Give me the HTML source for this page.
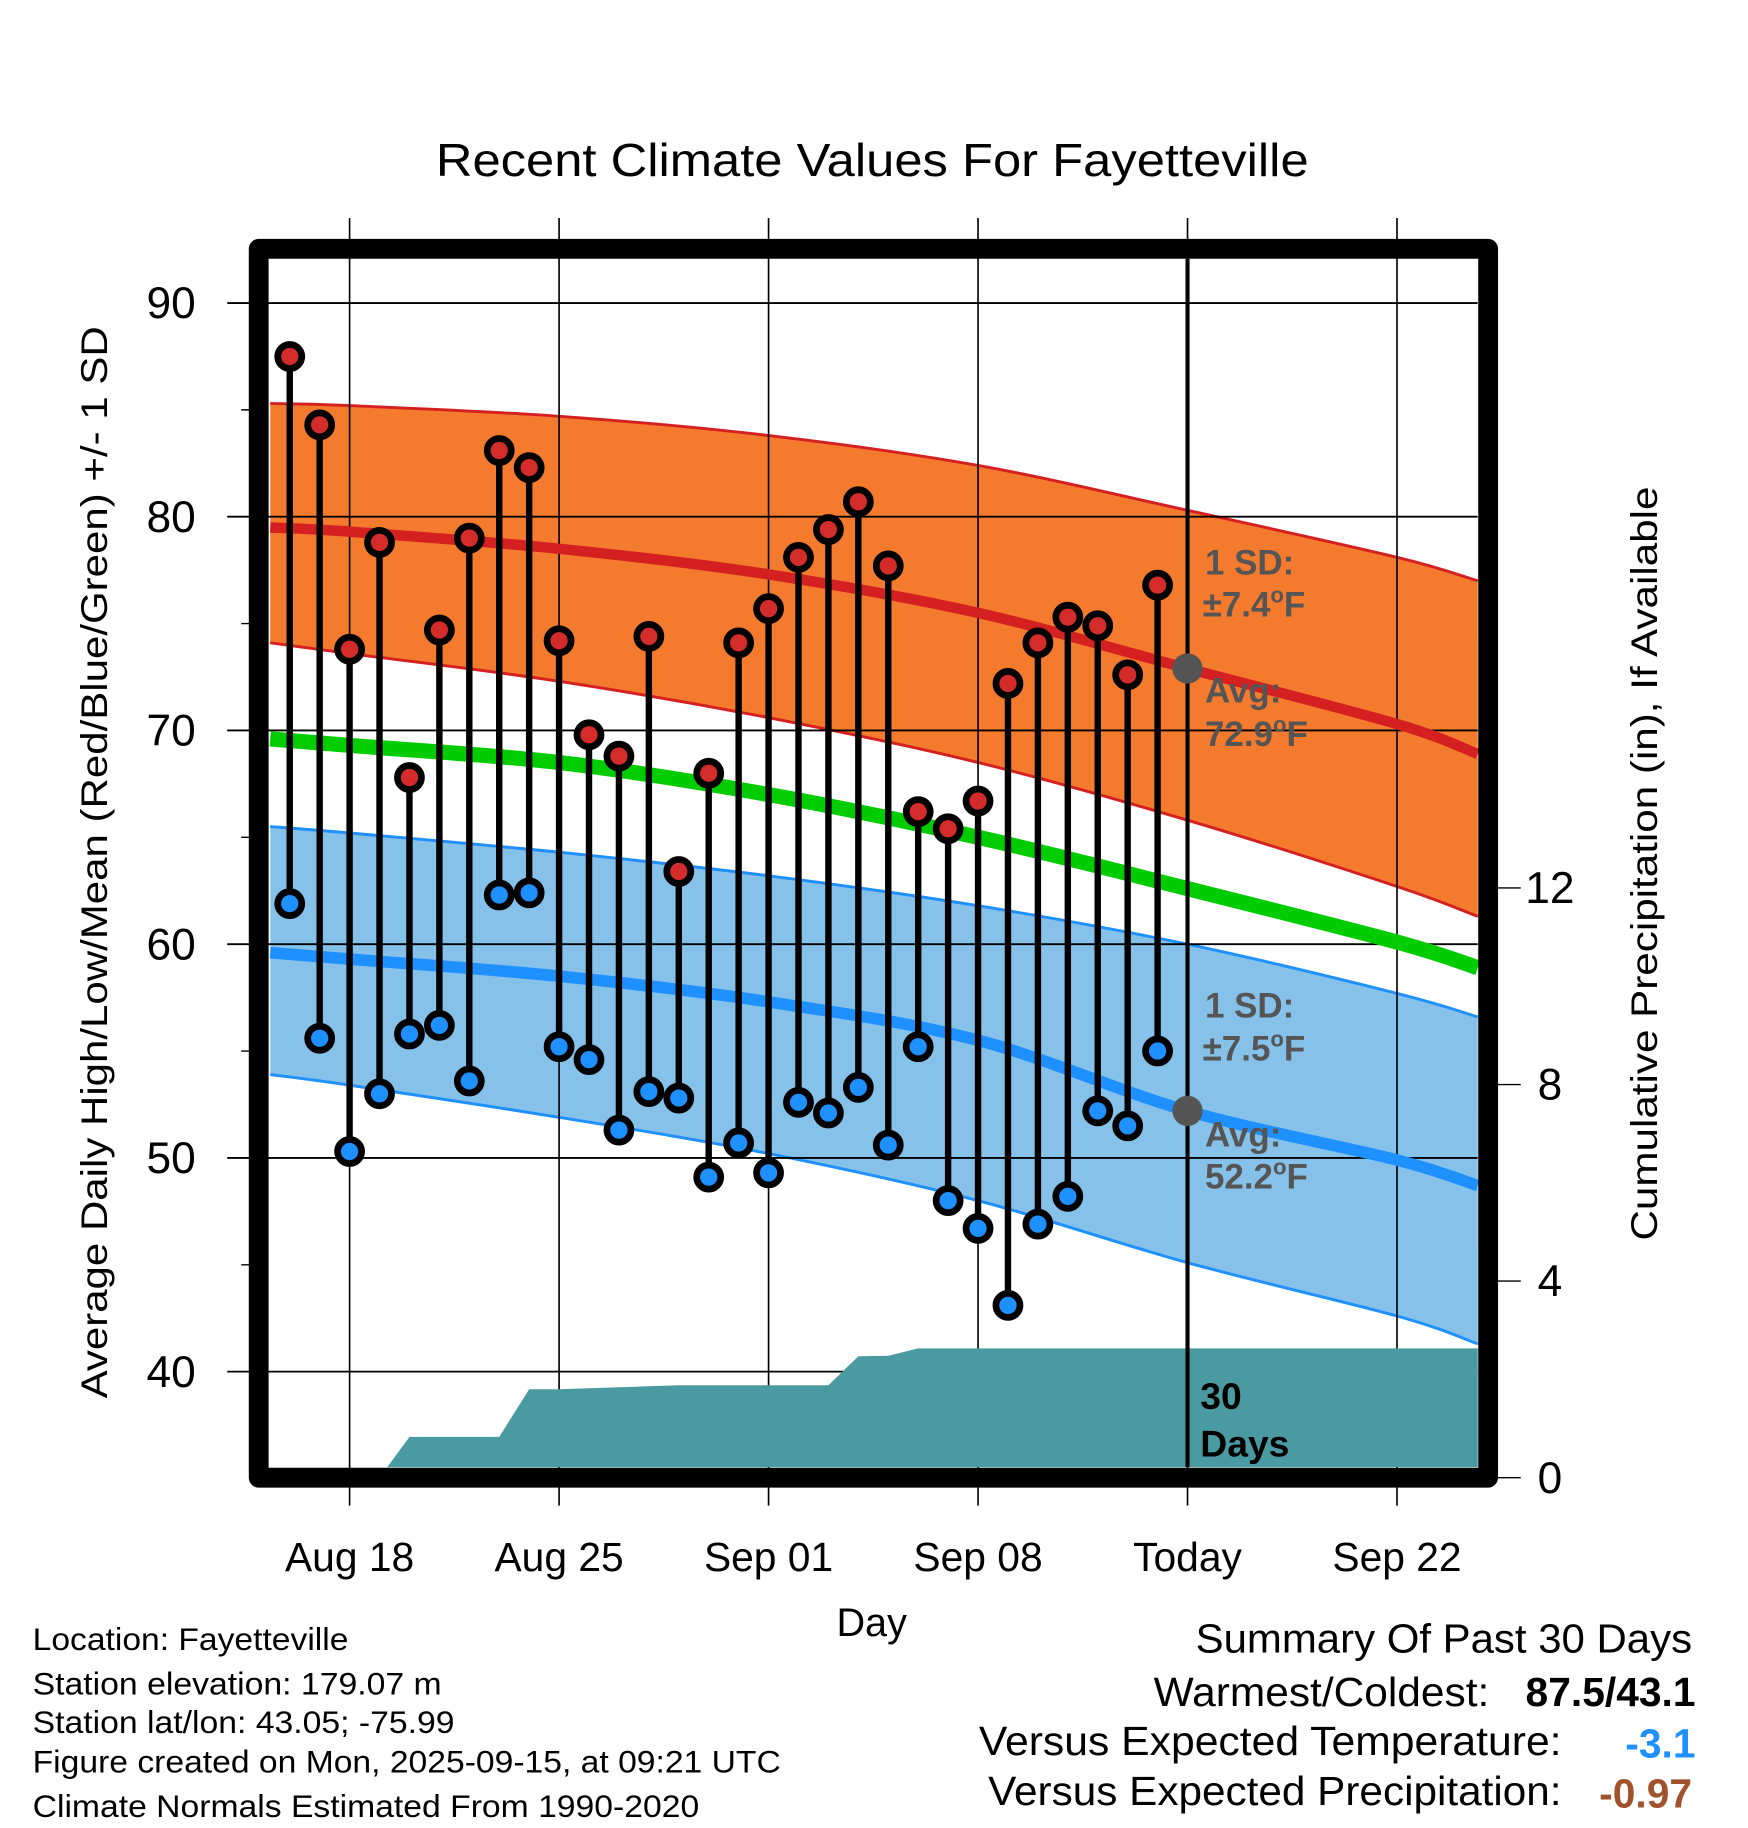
<!DOCTYPE html>
<html><head><meta charset="utf-8"><style>html,body{margin:0;padding:0;background:#fff}svg{display:block}text{font-family:"Liberation Sans",Arial,sans-serif}</style></head>
<body>
<svg id="chart" width="1748" height="1828" viewBox="0 0 1500 1568.6" xmlns="http://www.w3.org/2000/svg">
<defs><clipPath id="plotclip"><rect x="231" y="222" width="1038" height="1037"/></clipPath></defs>
<g id="bands" clip-path="url(#plotclip)"></g>
<g id="grid"></g>
<g id="precip" clip-path="url(#plotclip)"></g>
<g id="lines" clip-path="url(#plotclip)"></g>
<g id="stems"></g>
<g id="annot"></g>
<rect x="222" y="213.5" width="1055" height="1054.5" fill="none" stroke="#000" stroke-width="17" stroke-linejoin="round"/>
<g id="axes"></g>
<text x="374" y="151" font-size="40" textLength="749" lengthAdjust="spacingAndGlyphs">Recent Climate Values For Fayetteville</text>
<text transform="translate(92,740) rotate(-90)" font-size="32" text-anchor="middle" textLength="920" lengthAdjust="spacingAndGlyphs">Average Daily High/Low/Mean (Red/Blue/Green) +/- 1 SD</text>
<text transform="translate(1422,741) rotate(-90)" font-size="32" text-anchor="middle" textLength="647" lengthAdjust="spacingAndGlyphs">Cumulative Precipitation (in), If Available</text>
<text x="748" y="1404" font-size="34" text-anchor="middle">Day</text>
<g font-size="27">
<text x="28" y="1416" textLength="271" lengthAdjust="spacingAndGlyphs">Location: Fayetteville</text>
<text x="28" y="1454" textLength="351" lengthAdjust="spacingAndGlyphs">Station elevation: 179.07 m</text>
<text x="28" y="1487" textLength="362" lengthAdjust="spacingAndGlyphs">Station lat/lon: 43.05; -75.99</text>
<text x="28" y="1521" textLength="642" lengthAdjust="spacingAndGlyphs">Figure created on Mon, 2025-09-15, at 09:21 UTC</text>
<text x="28" y="1559" textLength="572" lengthAdjust="spacingAndGlyphs">Climate Normals Estimated From 1990-2020</text>
</g>
<g font-size="35">
<text x="1026" y="1418" textLength="426" lengthAdjust="spacingAndGlyphs">Summary Of Past 30 Days</text>
<text x="990" y="1464" textLength="288" lengthAdjust="spacingAndGlyphs">Warmest/Coldest:</text>
<text x="1455" y="1464" text-anchor="end" font-weight="bold">87.5/43.1</text>
<text x="840" y="1506" textLength="500" lengthAdjust="spacingAndGlyphs">Versus Expected Temperature:</text>
<text x="1455" y="1508" text-anchor="end" font-weight="bold" fill="#1e90ff">-3.1</text>
<text x="848" y="1549" textLength="492" lengthAdjust="spacingAndGlyphs">Versus Expected Precipitation:</text>
<text x="1452" y="1551" text-anchor="end" font-weight="bold" fill="#a0522d">-0.97</text>
</g>
</svg>
<script>
// day index: Aug18 = 0
const obsDays = [-2,-1,0,1,2,3,4,5,6,7,8,9,10,11,12,13,14,15,16,17,18,19,20,21,22,23,24,25,26,27];
const highs = [87.5,84.3,73.8,78.8,67.8,74.7,79.0,83.1,82.3,74.2,69.8,68.8,74.4,63.4,68.0,74.1,75.7,78.1,79.4,80.7,77.7,66.2,65.4,66.7,72.2,74.1,75.3,74.9,72.6,76.8];
const lows = [61.9,55.6,50.3,53.0,55.8,56.2,53.6,62.3,62.4,55.2,54.6,51.3,53.1,52.8,49.1,50.7,49.3,52.6,52.1,53.3,50.6,55.2,48.0,46.7,43.1,46.9,48.2,52.2,51.5,55.0];
const normDays = [-2.65,0,7,14,21,28,35,37.7];
const highAvg = [79.5,79.3,78.5,77.3,75.5,72.9,70.3,68.9];
const highUp = [85.3,85.2,84.7,83.8,82.4,80.3,78.1,77.0];
const highLo = [74.1,73.6,72.3,70.6,68.5,65.8,62.7,61.3];
const meanAvg = [69.6,69.3,68.5,67.0,65.0,62.6,60.1,58.9];
const lowUp = [65.5,65.2,64.3,63.2,61.8,60.0,57.7,56.6];
const lowAvg = [59.6,59.3,58.5,57.3,55.5,52.2,49.9,48.7];
const lowLo = [53.9,53.4,51.9,50.2,48.0,45.1,42.6,41.3];
const precipDays = [-2.65,-2,-1,0,1,2,3,4,5,6,7,8,9,10,11,12,13,14,15,16,17,18,19,20,21,22,23,24,25,26,27,28,35,37.7];
const precipVals = [0,0,0,0,0,0.83,0.83,0.83,0.83,1.80,1.80,1.82,1.84,1.86,1.88,1.88,1.88,1.88,1.88,1.88,2.47,2.48,2.63,2.63,2.63,2.63,2.63,2.63,2.63,2.63,2.63,2.63,2.63,2.63];
const tempTicks = [40,50,60,70,80,90];
const precipTicks = [0,4,8,12];
const xTickDays = [0,7,14,21,28,35];
const xTickLabels = ["Aug 18","Aug 25","Sep 01","Sep 08","Today","Sep 22"];
const todayDay = 28;

const NS="http://www.w3.org/2000/svg";
const xS = d => 300 + d*25.68;
const yS = t => 1177 - (t-40)*18.34;
const pS = p => 1268 - p*42.17;
function mk(tag, attrs, parent){const e=document.createElementNS(NS,tag);for(const k in attrs)e.setAttribute(k,attrs[k]);parent.appendChild(e);return e;}
const g = id => document.getElementById(id);
function xy(ds, vs){return ds.map((d,i)=>[xS(d), yS(vs[i])]);}
// Catmull-Rom smooth path segments (no leading M)
function smooth(P){
  let s='';
  for(let i=0;i<P.length-1;i++){
    const p0=P[Math.max(0,i-1)],p1=P[i],p2=P[i+1],p3=P[Math.min(P.length-1,i+2)];
    const c1=[p1[0]+(p2[0]-p0[0])/6,p1[1]+(p2[1]-p0[1])/6];
    const c2=[p2[0]-(p3[0]-p1[0])/6,p2[1]-(p3[1]-p1[1])/6];
    s+=' C'+c1.map(v=>v.toFixed(1)).join(',')+' '+c2.map(v=>v.toFixed(1)).join(',')+' '+p2.map(v=>v.toFixed(1)).join(',');
  }
  return s;
}
function curvePath(ds, vs){const P=xy(ds,vs);return 'M'+P[0][0].toFixed(1)+','+P[0][1].toFixed(1)+smooth(P);}
function band(up, lo, fill, stroke, name){
  const U=xy(normDays, up), L=xy(normDays, lo).reverse();
  const d='M'+U[0][0]+','+U[0][1]+smooth(U)+' L'+L[0][0]+','+L[0][1]+smooth(L)+' Z';
  const b = mk('path',{d:d,fill:fill},g('bands'));
  
  
  [up,lo].forEach(a=>{const l=mk('path',{d:curvePath(normDays,a),fill:'none',stroke:stroke,'stroke-width':2.5},g('bands'));
  
  });
}
band(highUp, highLo, '#f47a2e', '#d42020', 'high-sd-band');
band(lowUp, lowLo, '#85c1e9', '#1e90ff', 'low-sd-band');

// grid
tempTicks.forEach(t=>{const l=mk('line',{x1:195,x2:1268,y1:yS(t),y2:yS(t),stroke:'#000','stroke-width':1.6},g('grid'));


const tx=mk('text',{x:168,y:yS(t)+13,'font-size':38,'text-anchor':'end'},g('axes'));tx.textContent=t;

});
[45,55,65,75,85].forEach(t=>{const l=mk('line',{x1:207,x2:222,y1:yS(t),y2:yS(t),stroke:'#000','stroke-width':1.2},g('grid'));

});
xTickDays.forEach((d,i)=>{const l=mk('line',{x1:xS(d),x2:xS(d),y1:187,y2:1292,stroke:'#000','stroke-width':1.4},g('grid'));


const tx=mk('text',{x:xS(d),y:1348,'font-size':35,'text-anchor':'middle'},g('axes'));tx.textContent=xTickLabels[i];

});
precipTicks.forEach(p=>{const l=mk('line',{x1:1277,x2:1305,y1:pS(p),y2:pS(p),stroke:'#000','stroke-width':1.2},g('axes'));


const tx=mk('text',{x:1330,y:pS(p)+13,'font-size':38,'text-anchor':'middle'},g('axes'));tx.textContent=p;

});

// precip area
const pp = precipDays.map((d,i)=>xS(d).toFixed(1)+","+pS(precipVals[i]).toFixed(1));
pp.push(xS(precipDays[precipDays.length-1]).toFixed(1)+","+pS(0)); pp.push(xS(precipDays[0]).toFixed(1)+","+pS(0));
const pa=mk('polygon',{points:pp.join(' '),fill:'#4a9aa2'},g('precip'));



// avg lines
[[highAvg,'#d42020',9,'high-avg-line'],[meanAvg,'#00cc00',13,'mean-avg-line'],[lowAvg,'#1e90ff',10,'low-avg-line']].forEach(a=>{
 const l=mk('path',{d:curvePath(normDays,a[0]),fill:'none',stroke:a[1],'stroke-width':a[2]},g('lines'));
 
 });

// today line
const tl=mk('line',{x1:xS(todayDay),x2:xS(todayDay),y1:222,y2:1292,stroke:'#000','stroke-width':3.5},g('lines'));



// stems
obsDays.forEach((d,i)=>{
 const x=xS(d);
 const s=mk('line',{x1:x,x2:x,y1:yS(highs[i]),y2:yS(lows[i]),stroke:'#000','stroke-width':5.5},g('stems'));
 
 
 const h=mk('circle',{cx:x,cy:yS(highs[i]),r:10.3,fill:'#d42b2b',stroke:'#000','stroke-width':5.8},g('stems'));
 
 
 const lo=mk('circle',{cx:x,cy:yS(lows[i]),r:10.3,fill:'#1e90ff',stroke:'#000','stroke-width':5.8},g('stems'));
 
 
});

// annotations
const tx0=xS(todayDay);
[[highAvg[5],'high-today-marker'],[lowAvg[5],'low-today-marker']].forEach(a=>{
 const c=mk('circle',{cx:tx0,cy:yS(a[0]),r:13,fill:'#555'},g('annot'));
 
 });
function lab(x,y,html,fill,name,size){const t=mk('text',{x:x,y:y,'font-size':size||30,'font-weight':'bold',fill:fill},g('annot'));t.innerHTML=html;
 
 }
lab(1034,493,'1 SD:','#555','high-sd-label');
lab(1032,529,'±7.4<tspan font-size="19" dy="-12">o</tspan><tspan dy="12">F</tspan>','#555','high-sd-value');
lab(1034,603,'Avg:','#555','high-avg-label');
lab(1034,640,'72.9<tspan font-size="19" dy="-12">o</tspan><tspan dy="12">F</tspan>','#555','high-avg-value');
lab(1034,873,'1 SD:','#555','low-sd-label');
lab(1032,910,'±7.5<tspan font-size="19" dy="-12">o</tspan><tspan dy="12">F</tspan>','#555','low-sd-value');
lab(1034,984,'Avg:','#555','low-avg-label');
lab(1034,1020,'52.2<tspan font-size="19" dy="-12">o</tspan><tspan dy="12">F</tspan>','#555','low-avg-value');
lab(1030,1209,'30','#000','precip-days-label',32);
lab(1030,1250,'Days','#000','precip-days-label-2',32);
</script>
</body></html>
